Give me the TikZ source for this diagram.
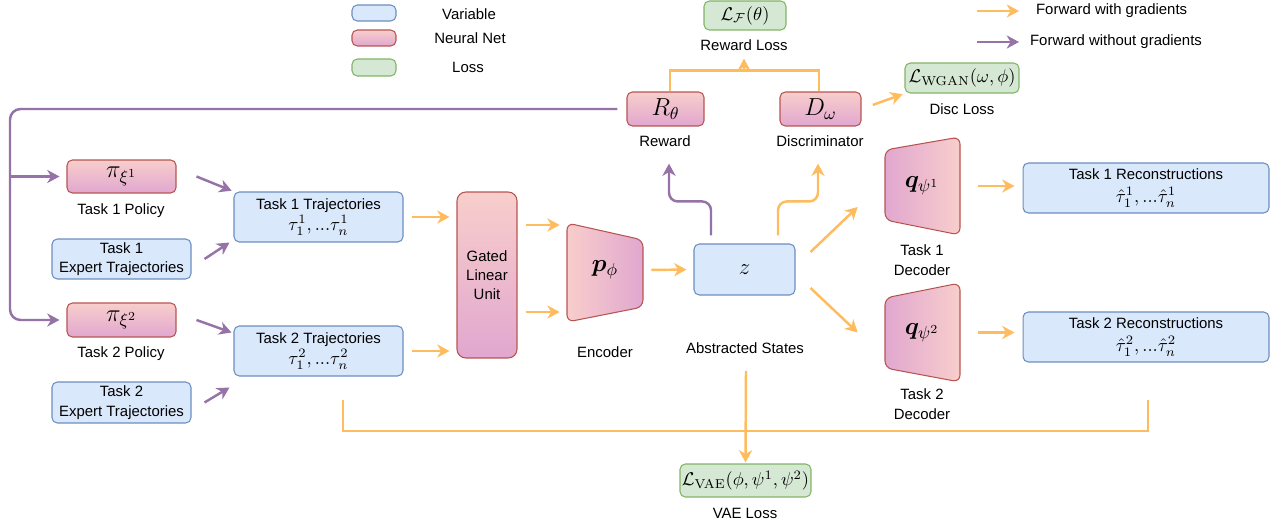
\RequirePackage{fix-cm}
\documentclass[tikz,border=0pt]{standalone}
\usepackage[no-math]{fontspec}
\setmainfont{Liberation Sans}
\usepackage{bm}
\usetikzlibrary{arrows.meta}

\definecolor{varfill}{HTML}{DAE8FC}
\definecolor{varline}{HTML}{6C8EBF}
\definecolor{nettop}{HTML}{F8CECC}
\definecolor{netbot}{HTML}{E1A7CF}
\definecolor{netline}{HTML}{B85450}
\definecolor{lossfill}{HTML}{D5E8D4}
\definecolor{lossline}{HTML}{82B366}
\definecolor{gradc}{HTML}{FFBC5E}
\definecolor{nogradc}{HTML}{9673A6}

\begin{document}
\begin{tikzpicture}[x=0.02cm, y=-0.02cm,
  every node/.style={font=\fontsize{8.5}{11}\selectfont, inner sep=1pt},
  var/.style={rectangle, draw=varline, fill=varfill, line width=0.6pt,
              rounded corners=3pt, align=center},
  net/.style={rectangle, draw=netline, top color=nettop, bottom color=netbot,
              line width=0.6pt, rounded corners=3pt, align=center},
  loss/.style={rectangle, draw=lossline, fill=lossfill, line width=0.6pt,
               rounded corners=3pt},
  trap/.style={draw=netline, line width=0.6pt, rounded corners=4pt},
  mth/.style={font=\fontsize{14}{16}\selectfont},
  smth/.style={font=\fontsize{10.5}{12}\selectfont},
  lbl/.style={align=center},
  gradline/.style={line width=1.4pt, gradc},
  grad/.style={-{Stealth[length=7pt, width=7.5pt, inset=2.2pt]}, line width=1.4pt, gradc},
  nograd/.style={-{Stealth[length=7pt, width=7.5pt, inset=2.2pt]}, line width=1.4pt, nogradc},
  gap/.style={shorten <=0.16cm, shorten >=0.14cm}
]
  \useasboundingbox (0,0) rectangle (1276,524);

  % Legend
  \node[var, minimum width=0.88cm, minimum height=0.32cm] (legvar) at (374,13) {};
  \node (legvartxt) at (469,14) {Variable};
  \node[net, minimum width=0.88cm, minimum height=0.32cm] (legnet) at (374,38) {};
  \node (legnettxt) at (470,38) {Neural Net};
  \node[loss, minimum width=0.88cm, minimum height=0.34cm] (legloss) at (374,67.5) {};
  \node (leglosstxt) at (468,67) {Loss};
  \coordinate (leggrad) at (977,11);
  \node[right] (leggradtxt) at (1034,11) {Forward with gradients};
  \draw[grad] (leggrad) -- ++(42,0);
  \coordinate (legnograd) at (977,42);
  \node[right] (legnogradtxt) at (1028,42) {Forward without gradients};
  \draw[nograd] (legnograd) -- ++(42,0);

  % Losses and heads
  \node[loss, smth, minimum width=1.64cm, minimum height=0.58cm] (lossF) at (745,15.5) {$\mathcal{L}_{\mathcal{F}}(\theta)$};
  \node (lossFlbl) at (744,45) {Reward Loss};
  \node[net, mth, minimum width=1.54cm, minimum height=0.68cm] (reward) at (665.5,109) {$R_\theta$};
  \node (rewardlbl) at (665,141) {Reward};
  \node[net, mth, minimum width=1.62cm, minimum height=0.68cm] (disc) at (820.5,109) {$D_\omega$};
  \node (disclbl) at (820,141) {Discriminator};
  \node[loss, smth, minimum width=2.28cm, minimum height=0.60cm] (lossW) at (962,78) {$\mathcal{L}_{\mathrm{WGAN}}(\omega,\phi)$};
  \node (lossWlbl) at (962,109) {Disc Loss};

  % Inputs
  \node[net, mth, minimum width=2.18cm, minimum height=0.66cm] (pi1) at (121.5,176.5) {$\pi_{\xi^1}$};
  \node (pi1lbl) at (121,211) {Task 1 Policy};
  \node[var, minimum width=2.78cm, minimum height=0.80cm] (exp1) at (121.5,259) {Task 1\\Expert Trajectories};
  \node[var, minimum width=3.38cm, minimum height=1.00cm] (traj1) at (318.5,217) {Task 1 Trajectories\\[1pt]{\fontsize{10.5}{12}\selectfont$\tau_1^1, ...\tau_n^1$}};
  \node[net, mth, minimum width=2.18cm, minimum height=0.68cm] (pi2) at (121.5,320) {$\pi_{\xi^2}$};
  \node (pi2lbl) at (121,354) {Task 2 Policy};
  \node[var, minimum width=2.78cm, minimum height=0.82cm] (exp2) at (121.5,402.5) {Task 2\\Expert Trajectories};
  \node[var, minimum width=3.38cm, minimum height=1.00cm] (traj2) at (318.5,351) {Task 2 Trajectories\\[1pt]{\fontsize{10.5}{12}\selectfont$\tau_1^2, ...\tau_n^2$}};

  % Encoder side
  \node[net, rounded corners=5pt, minimum width=1.20cm, minimum height=3.32cm] (glu) at (487,275) {Gated\\Linear\\Unit};
  \shade[trap, left color=nettop, right color=netbot] (567,223) -- (643,240) -- (643,307) -- (567,322) -- cycle;
  \node[mth, minimum width=1.52cm, minimum height=1.98cm] (enc) at (605,270) {$\bm{p}_{\phi}$};
  \node (enclbl) at (605,352) {Encoder};
  \node[var, minimum width=2.02cm, minimum height=1.02cm] (z) at (744.5,269.5) {\fontsize{13}{14}\selectfont$z$};
  \node (zlbl) at (745,348) {Abstracted States};

  % Decoders
  \shade[trap, left color=netbot, right color=nettop] (885,150) -- (960,137) -- (960,235) -- (885,220) -- cycle;
  \node[mth, minimum width=1.50cm, minimum height=1.96cm] (dec1) at (922,186) {$\bm{q}_{\psi^1}$};
  \node[lbl] (dec1lbl) at (922,260) {Task 1\\Decoder};
  \shade[trap, left color=netbot, right color=nettop] (885,298) -- (960,283) -- (960,382) -- (885,368) -- cycle;
  \node[mth, minimum width=1.50cm, minimum height=1.98cm] (dec2) at (922,332.5) {$\bm{q}_{\psi^2}$};
  \node[lbl] (dec2lbl) at (922,404) {Task 2\\Decoder};
  \node[var, minimum width=4.92cm, minimum height=1.00cm] (rec1) at (1146,188) {Task 1 Reconstructions\\[2pt]{\fontsize{10.5}{12}\selectfont$\hat\tau_1^1, ...\hat\tau_n^1$}};
  \node[var, minimum width=4.92cm, minimum height=1.00cm] (rec2) at (1146,337) {Task 2 Reconstructions\\[2pt]{\fontsize{10.5}{12}\selectfont$\hat\tau_1^2, ...\hat\tau_n^2$}};

  \node[loss, smth, minimum width=2.62cm, minimum height=0.66cm] (lossV) at (745.5,480.5) {$\mathcal{L}_{\mathrm{VAE}}(\phi,\psi^1,\psi^2)$};
  \node (lossVlbl) at (745,513) {VAE Loss};

  % Policy feedback (no gradients)
  \coordinate (bus) at (10,320);
  \draw[nograd, rounded corners=6pt, shorten <=0.18cm, shorten >=0.14cm] (reward.west) -| (bus) -- (pi2.west);
  \draw[nograd, shorten >=0.14cm] (pi1.west -| bus) -- (pi1.west);

  % Rollouts into trajectories
  \draw[nograd, shorten >=0.04cm] ([xshift=0.4cm]pi1.east) -- (traj1.north west);
  \draw[nograd] ([xshift=0.26cm]exp1.east) -- ([xshift=-0.08cm]traj1.south west);
  \draw[nograd] ([xshift=0.4cm]pi2.east) -- ([shift={(-0.04cm,-0.14cm)}]traj2.north west);
  \draw[nograd] ([xshift=0.26cm]exp2.east) -- ([shift={(-0.08cm,-0.22cm)}]traj2.south west);

  % Forward pass
  \draw[grad, gap] (traj1.east) -- (glu.west |- traj1.east);
  \draw[grad, gap] (traj2.east) -- (glu.west |- traj2.east);
  \draw[grad, gap] (glu.east |- 0,225) -- (enc.west |- 0,225);
  \draw[grad, gap] (glu.east |- 0,312) -- (enc.west |- 0,312);
  \draw[grad, gap] (enc.east) -- (z.west);
  \draw[grad] ([shift={(0.3cm,0.35cm)}]z.east) -- ([shift={(-0.53cm,-0.42cm)}]dec1.west);
  \draw[grad] ([shift={(0.3cm,-0.37cm)}]z.east) -- ([xshift=-0.53cm]dec2.west);
  \draw[grad, shorten <=0.36cm, shorten >=0.16cm] (dec1.east) -- (rec1.west |- dec1.east);
  \draw[grad, shorten <=0.36cm, shorten >=0.16cm] (dec2.east) -- (rec2.west |- dec2.east);

  % Heads on z
  \draw[nograd, rounded corners=5pt, shorten <=0.16cm, shorten >=0.3cm] ([xshift=-0.67cm]z.north) -- ++(0,-42) -| ([xshift=0.08cm]rewardlbl.south);
  \draw[grad, rounded corners=5pt, shorten <=0.16cm, shorten >=0.3cm] ([xshift=0.67cm]z.north) -- ++(0,-42) -| ([xshift=-0.04cm]disclbl.south);

  % Losses
  \draw[gradline] ([xshift=0.09cm]reward.north) -- ++(0,-21) -| ([xshift=-0.03cm]disc.north);
  \draw[grad, shorten >=0.12cm] (lossFlbl.south |- 0,71) -- (lossFlbl.south);
  \draw[grad, shorten <=0.24cm, shorten >=0.04cm] (disc.east) -- (lossW.south west);
  \coordinate (vaeleft) at (343,400);
  \coordinate (vaeright) at (1148,400);
  \coordinate (vaemid) at (746,371);
  \draw[gradline] (vaeleft) -- ++(0,31) -| (vaeright);
  \draw[grad, shorten >=0.02cm] (vaemid) -- (lossV.north);
\end{tikzpicture}
\end{document}
